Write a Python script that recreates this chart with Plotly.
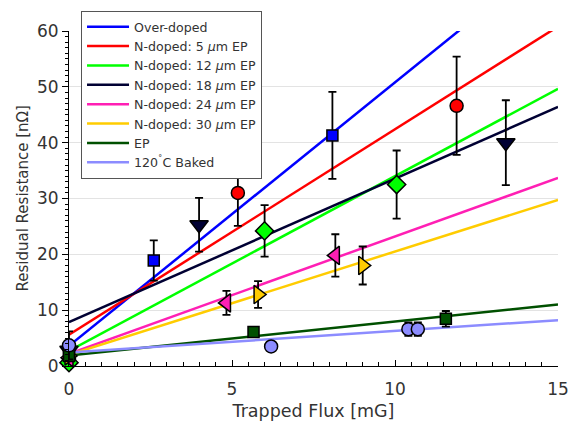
import numpy as np
import plotly.graph_objects as go

# ---- data ----
names = ["Over-doped", "N-doped: 5 <i>μ</i>m EP", "N-doped: 12 <i>μ</i>m EP",
         "N-doped: 18 <i>μ</i>m EP", "N-doped: 24 <i>μ</i>m EP",
         "N-doped: 30 <i>μ</i>m EP", "EP", "120<sup>˚</sup>C Baked"]
colors = ["#0000ff", "#ff0000", "#00ff00", "#000033", "#ff1fb4", "#ffcc00", "#005000", "#8c8cff"]
symbols = ["square", "circle", "diamond", "triangle-down", "triangle-left",
           "triangle-right", "square", "circle"]
msizes = [11, 13, 14, 16, 16, 16, 11, 13]

over_x = [0, 2.6, 8.08]
over_y = [2.4, 18.9, 41.3]
over_e = [0, 3.6, 7.8]

n5_x = [0, 5.18, 11.89]
n5_y = [1.2, 31.0, 46.6]
n5_e = [0, 5.9, 8.8]

n12_x = [0, 6.0, 10.05]
n12_y = [0.6, 24.2, 32.5]
n12_e = [0, 4.6, 6.1]

n18_x = [0, 3.99, 13.4]
n18_y = [2.8, 25.3, 40.0]
n18_e = [0, 4.8, 7.6]

n24_x = [0, 4.83, 8.17]
n24_y = [1.5, 11.3, 19.8]
n24_e = [0, 2.15, 3.8]

n30_x = [0, 5.8, 9.01]
n30_y = [1.8, 12.8, 18.0]
n30_e = [0, 2.4, 3.4]

ep_x = [0, 5.66, 11.56]
ep_y = [1.8, 6.1, 8.45]
ep_e = [0, 0.7, 1.4]

bk_x = [0, 6.2, 10.41, 10.7]
bk_y = [3.7, 3.5, 6.6, 6.6]
bk_e = [2.5, 0, 1.2, 1.2]

# linear fits: intercept, slope
fit_b = [3.6, 5.6, 2.7, 7.85, 2.2, 2.0, 1.9, 2.4]
fit_m = [4.72, 3.68, 3.13, 2.57, 2.1, 1.85, 0.607, 0.387]

xs = [over_x, n5_x, n12_x, n18_x, n24_x, n30_x, ep_x, bk_x]
ys = [over_y, n5_y, n12_y, n18_y, n24_y, n30_y, ep_y, bk_y]
es = [over_e, n5_e, n12_e, n18_e, n24_e, n30_e, ep_e, bk_e]

x_ticks = [0, 5, 10, 15]
y_ticks = [0, 10, 20, 30, 40, 50, 60]

FONT = "DejaVu Sans"
TXT = "#333333"

fig = go.Figure()
xl = np.array([0.0, 15.0])
for i in range(len(names)):
    fig.add_trace(go.Scatter(
        x=xl, y=fit_b[i] + fit_m[i] * xl, mode="lines", name=names[i],
        line=dict(color=colors[i], width=2.5), cliponaxis=True))

for i in range(len(names)):
    fig.add_trace(go.Scatter(
        x=xs[i], y=ys[i], mode="markers", showlegend=False,
        marker=dict(symbol=symbols[i], size=msizes[i], color=colors[i],
                    line=dict(color="black", width=1.5)),
        error_y=dict(type="data", array=es[i], visible=True, color="black",
                     thickness=1.8, width=4),
        cliponaxis=False))

fig.update_layout(
    width=569, height=424,
    margin=dict(l=69, r=11, t=31, b=58, autoexpand=False),
    paper_bgcolor="white", plot_bgcolor="white",
    font=dict(family=FONT, color=TXT, size=16),
    showlegend=True,
    legend=dict(xref="container", yref="container", x=0.1424, y=0.974,
                xanchor="left", yanchor="top",
                bgcolor="white", bordercolor="#555555", borderwidth=1,
                font=dict(family=FONT, size=12.6, color=TXT),
                tracegroupgap=0, itemwidth=42),
    xaxis=dict(range=[0, 15], tickvals=x_ticks, showgrid=False, zeroline=False,
               automargin=True,
               showline=True, linecolor="black", linewidth=1,
               ticks="inside", ticklen=6, tickcolor="black",
               ticklabelstandoff=8,
               minor=dict(dtick=0.5, ticks="inside", ticklen=4, tickcolor="black"),
               title=dict(text="Trapped Flux [mG]", font=dict(size=17.5), standoff=6),
               tickfont=dict(size=17)),
    yaxis=dict(range=[0, 60], tickvals=y_ticks, showgrid=True, gridcolor="#e3e3e3",
               gridwidth=1, zeroline=False, automargin=False,
               showline=True, linecolor="black", linewidth=1,
               ticks="outside", ticklen=6, tickcolor="black",
               minor=dict(dtick=1, ticks="outside", ticklen=3, tickcolor="black", showgrid=False),
               tickfont=dict(size=17)),
    annotations=[dict(text="Residual Resistance [nΩ]", textangle=-90,
                      xref="paper", yref="paper", x=-0.0961, y=0.5,
                      xanchor="center", yanchor="middle", showarrow=False,
                      font=dict(family=FONT, size=15, color=TXT))],
)

fig.write_html("out.html", config={"displayModeBar": False},
               post_script="document.body.style.margin='0px';")
